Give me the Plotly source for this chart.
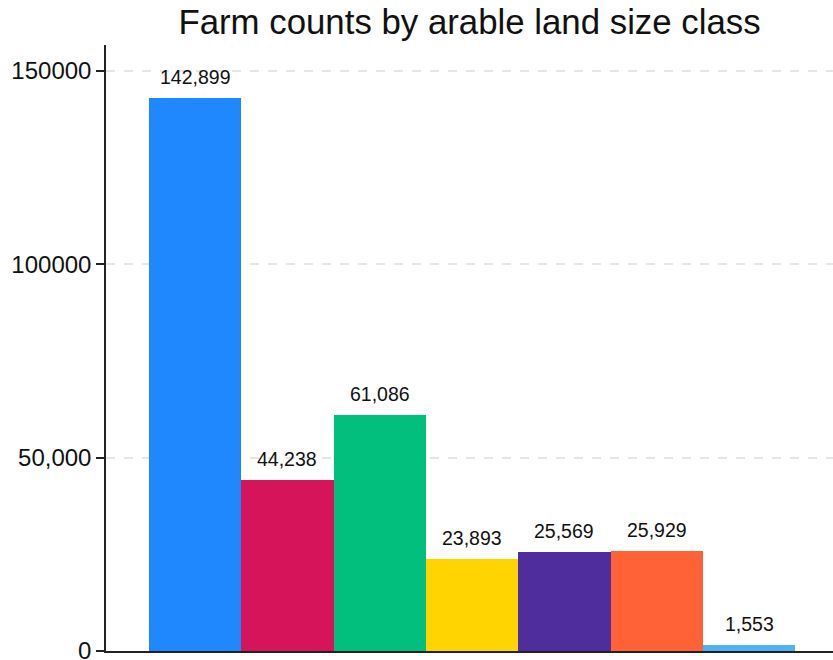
import plotly.graph_objects as go

# Farm counts per arable land size class
size_classes = ["Class 1", "Class 2", "Class 3", "Class 4", "Class 5", "Class 6", "Class 7"]
farm_counts = [142899, 44238, 61086, 23893, 25569, 25929, 1553]
bar_colors = ["#1F88FF", "#D6145A", "#02BF7E", "#FFD400", "#502D9C", "#FF6236", "#4FB2F4"]

y_tick_vals = [0, 50000, 100000, 150000]
y_tick_text = ["0", "50,000", "100000", "150000"]

FONT = "Arial, Liberation Sans, sans-serif"

fig = go.Figure(
    go.Bar(
        x=list(range(len(size_classes))),
        y=farm_counts,
        marker=dict(color=bar_colors, line=dict(width=0)),
        hovertext=size_classes,
        showlegend=False,
    )
)

# value labels above each bar
for i, v in enumerate(farm_counts):
    fig.add_annotation(
        x=i, y=v, text=f"{v:,}", showarrow=False,
        xref="x", yref="y", yanchor="bottom", yshift=8,
        font=dict(family=FONT, size=19.5, color="#111111"),
    )

fig.update_layout(
    width=833, height=660,
    margin=dict(l=106, r=0, t=45, b=9, autoexpand=False),
    paper_bgcolor="white", plot_bgcolor="white",
    bargap=0,
    font=dict(family=FONT, color="#111111"),
    title=dict(
        text="Farm counts by arable land size class",
        x=0.5, xref="paper", xanchor="center",
        y=1 - 22 / 660, yref="container", yanchor="middle",
        font=dict(family=FONT, size=34.8, color="#111111"),
    ),
)

fig.update_xaxes(
    range=[-0.966, 6.91],
    showticklabels=False, ticks="",
    showgrid=False, zeroline=False,
    showline=True, linecolor="#222222", linewidth=1.5,
    automargin=False,
)

fig.update_yaxes(
    range=[0, 156700],
    tickvals=y_tick_vals, ticktext=y_tick_text,
    ticks="outside", ticklen=8, tickwidth=1.5, tickcolor="#222222",
    tickfont=dict(family=FONT, size=24, color="#111111"),
    ticklabeloverflow="allow",
    showgrid=True, gridcolor="#E6E6E6", gridwidth=1.5, griddash="dash",
    zeroline=False,
    showline=True, linecolor="#222222", linewidth=1.5,
    automargin=False,
)

fig.write_html("out.html")
